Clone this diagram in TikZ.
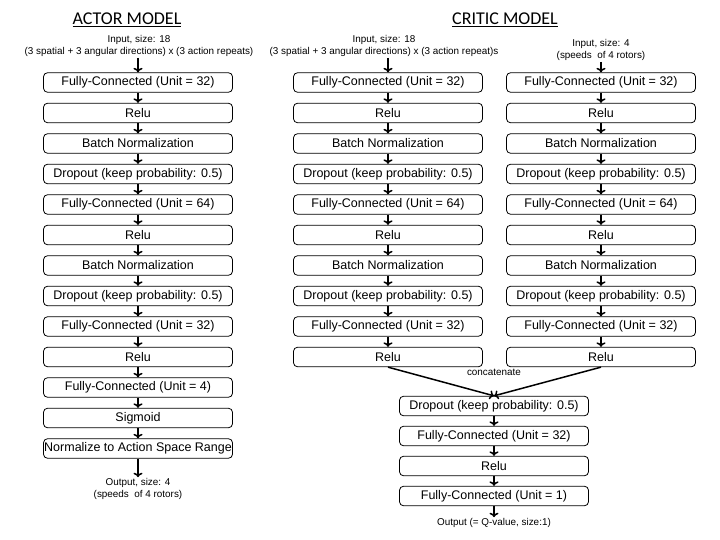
\documentclass[tikz,border=0pt]{standalone}
\usepackage{fontspec}
\setmainfont{Liberation Sans}
\newfontfamily\titlefont{Carlito}
\usetikzlibrary{arrows.meta}

\begin{document}
\begin{tikzpicture}[x=1pt,y=-1pt,
     box/.style={draw,rounded corners=4pt,line width=0.8pt,minimum width=189pt,minimum height=19.5pt,inner sep=0pt,font=\fontsize{12.5}{14}\selectfont},
     note/.style={align=center,inner sep=1pt,font=\fontsize{9.9}{12}\selectfont},
     title/.style={font=\titlefont\fontsize{18}{20}\selectfont},
     flow/.style={line width=1.5pt,-{To[length=4.5pt,width=9pt]}}]
     \useasboundingbox (0,0) rectangle (720,540);
     \node[title] at (127,20) (atitle) {\underline{ACTOR MODEL}};
     \node[title] at (505,20) (ctitle) {\underline{CRITIC MODEL}};
     \node[note] at (139,46) (ain) {Input, size: 18\\(3 spatial + 3 angular directions) x (3 action repeats)};
     \node[note] at (384,46) (sin) {Input, size: 18\\(3 spatial + 3 angular directions) x (3 action repeat)s};
     \node[note] at (601,50) (vin) {Input, size: 4\\(speeds\ \ of 4 rotors)};
     \node[box] at (138,82.5) (a0) {Fully-Connected (Unit = 32)};
     \node[box] at (138,113) (a1) {Relu};
     \node[box] at (138,143.5) (a2) {Batch Normalization};
     \node[box] at (138,174) (a3) {Dropout (keep probability: 0.5)};
     \node[box] at (138,204.5) (a4) {Fully-Connected (Unit = 64)};
     \node[box] at (138,235) (a5) {Relu};
     \node[box] at (138,265.5) (a6) {Batch Normalization};
     \node[box] at (138,296) (a7) {Dropout (keep probability: 0.5)};
     \node[box] at (138,326.5) (a8) {Fully-Connected (Unit = 32)};
     \node[box] at (138,357) (a9) {Relu};
     \node[box] at (138,387.5) (a10) {Fully-Connected (Unit = 4)};
     \node[box] at (138,418) (a11) {Sigmoid};
     \node[box] at (138,448.5) (a12) {Normalize to Action Space Range};
     \node[note] at (138,489) (aout) {Output, size: 4\\(speeds\ \ of 4 rotors)};
     \node[box] at (388,82.5) (s0) {Fully-Connected (Unit = 32)};
     \node[box] at (388,113) (s1) {Relu};
     \node[box] at (388,143.5) (s2) {Batch Normalization};
     \node[box] at (388,174) (s3) {Dropout (keep probability: 0.5)};
     \node[box] at (388,204.5) (s4) {Fully-Connected (Unit = 64)};
     \node[box] at (388,235) (s5) {Relu};
     \node[box] at (388,265.5) (s6) {Batch Normalization};
     \node[box] at (388,296) (s7) {Dropout (keep probability: 0.5)};
     \node[box] at (388,326.5) (s8) {Fully-Connected (Unit = 32)};
     \node[box] at (388,357) (s9) {Relu};
     \node[box] at (601,82.5) (v0) {Fully-Connected (Unit = 32)};
     \node[box] at (601,113) (v1) {Relu};
     \node[box] at (601,143.5) (v2) {Batch Normalization};
     \node[box] at (601,174) (v3) {Dropout (keep probability: 0.5)};
     \node[box] at (601,204.5) (v4) {Fully-Connected (Unit = 64)};
     \node[box] at (601,235) (v5) {Relu};
     \node[box] at (601,265.5) (v6) {Batch Normalization};
     \node[box] at (601,296) (v7) {Dropout (keep probability: 0.5)};
     \node[box] at (601,326.5) (v8) {Fully-Connected (Unit = 32)};
     \node[box] at (601,357) (v9) {Relu};
     \node[note] at (494,372) (cat) {concatenate};
     \node[box] at (494,406) (q0) {Dropout (keep probability: 0.5)};
     \node[box] at (494,436) (q1) {Fully-Connected (Unit = 32)};
     \node[box] at (494,466) (q2) {Relu};
     \node[box] at (494,496) (q3) {Fully-Connected (Unit = 1)};
     \node[note] at (494,523) (qout) {Output (= Q-value, size:1)};
     \path[flow] (a0.north |- ain.south) edge (a0)
              (a0) edge (a1) (a1) edge (a2) (a2) edge (a3) (a3) edge (a4)
              (a4) edge (a5) (a5) edge (a6) (a6) edge (a7) (a7) edge (a8)
              (a8) edge (a9) (a9) edge (a10) (a10) edge (a11) (a11) edge (a12)
              (a12) edge (aout);
     \path[flow] (s0.north |- sin.south) edge (s0)
              (s0) edge (s1) (s1) edge (s2) (s2) edge (s3) (s3) edge (s4)
              (s4) edge (s5) (s5) edge (s6) (s6) edge (s7) (s7) edge (s8)
              (s8) edge (s9);
     \path[flow] (vin) edge (v0)
              (v0) edge (v1) (v1) edge (v2) (v2) edge (v3) (v3) edge (v4)
              (v4) edge (v5) (v5) edge (v6) (v6) edge (v7) (v7) edge (v8)
              (v8) edge (v9);
     \path[flow] (s9.south) edge (q0.north)
              (v9.south) edge (q0.north)
              (q0) edge (q1) (q1) edge (q2) (q2) edge (q3)
              (q3) edge (qout);
\end{tikzpicture}
\end{document}
